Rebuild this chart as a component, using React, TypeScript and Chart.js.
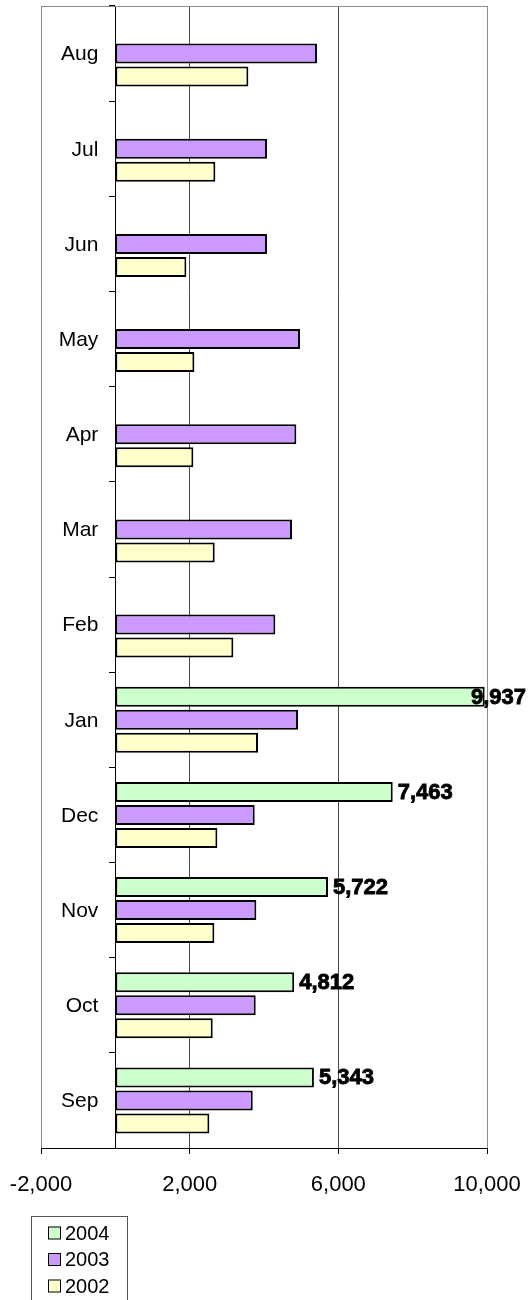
import React, { useEffect, useRef } from 'react';
import { Chart, registerables } from 'chart.js';

Chart.register(...registerables);

// Categories, listed from the bottom of the chart (Sep) to the top (Aug)
const months = ['Sep', 'Oct', 'Nov', 'Dec', 'Jan', 'Feb', 'Mar', 'Apr', 'May', 'Jun', 'Jul', 'Aug'];
const seriesNames = ['2004', '2003', '2002'];
const values2004 = [5343, 4812, 5722, 7463, 9937, null, null, null, null, null, null, null];
const values2003 = [3697, 3777, 3794, 3750, 4916, 4305, 4754, 4870, 4969, 4081, 4081, 5427];
const values2002 = [2530, 2620, 2664, 2745, 3839, 3175, 2674, 2099, 2126, 1911, 2691, 3579];
const seriesColors = ['#CCFFCC', '#CC99FF', '#FFFFCC'];
const xMin = -2000;
const xMax = 10000;
const xStep = 4000;

const FONT = "'Liberation Sans', Arial, Helvetica, sans-serif";

const framePlugin = {
  id: 'frameTop',
  beforeDatasetsDraw(chart: any) {
    const { ctx, chartArea: a } = chart;
    ctx.save();
    ctx.strokeStyle = '#8c8c8c';
    ctx.lineWidth = 1;
    ctx.beginPath();
    ctx.moveTo(a.left, a.top + 0.5);
    ctx.lineTo(a.right, a.top + 0.5);
    ctx.stroke();
    ctx.restore();
  },
};

// Category labels drawn beside the y axis, which crosses the x scale at 0
const categoryLabelPlugin = {
  id: 'categoryLabels',
  afterDraw(chart: any) {
    const { ctx } = chart;
    const yScale = chart.scales.y;
    const axisX = chart.scales.x.getPixelForValue(0);
    ctx.save();
    ctx.font = `21px ${FONT}`;
    ctx.fillStyle = '#000';
    ctx.textAlign = 'right';
    ctx.textBaseline = 'middle';
    chart.data.labels.forEach((label: string, i: number) => {
      ctx.fillText(label, axisX - 17, yScale.getPixelForValue(i) + 1);
    });
    ctx.restore();
  },
};

const valueLabelPlugin = {
  id: 'valueLabels',
  afterDatasetsDraw(chart: any) {
    const { ctx } = chart;
    const ds = chart.data.datasets[0];
    const meta = chart.getDatasetMeta(0);
    ctx.save();
    ctx.font = `bold 22px ${FONT}`;
    ctx.fillStyle = '#000';
    ctx.strokeStyle = '#000';
    ctx.lineWidth = 0.8;
    ctx.textAlign = 'left';
    ctx.textBaseline = 'middle';
    meta.data.forEach((bar: any, i: number) => {
      const v = ds.data[i];
      if (v === null || v === undefined) return;
      const text = Number(v).toLocaleString('en-US');
      const w = ctx.measureText(text).width;
      let x = bar.x + 5;
      if (x + w > chart.width - 2) x = chart.width - 2 - w;
      ctx.fillText(text, x, bar.y + 1);
      ctx.strokeText(text, x, bar.y + 1);
    });
    ctx.restore();
  },
};

const boxLegendPlugin = {
  id: 'boxLegend',
  afterDraw(chart: any) {
    const { ctx } = chart;
    const datasets = chart.data.datasets;
    const top = chart.scales.x.bottom + 16;
    const left = 31;
    const width = 96;
    const rowH = 26.5;
    const height = 17 * 2 + rowH * (datasets.length - 1);
    ctx.save();
    ctx.fillStyle = '#fff';
    ctx.fillRect(left, top, width, height);
    ctx.strokeStyle = '#555';
    ctx.lineWidth = 1;
    ctx.strokeRect(left + 0.5, top + 0.5, width, height);
    ctx.font = `20px ${FONT}`;
    ctx.textAlign = 'left';
    ctx.textBaseline = 'middle';
    datasets.forEach((ds: any, i: number) => {
      const cy = top + 17 + i * rowH;
      ctx.fillStyle = ds.backgroundColor;
      ctx.fillRect(48, cy - 6.5, 13, 13);
      ctx.strokeStyle = '#000';
      ctx.lineWidth = 1;
      ctx.strokeRect(48.5, cy - 6, 12, 12);
      ctx.fillStyle = '#000';
      ctx.fillText(ds.label, 65, cy + 1);
    });
    ctx.restore();
  },
};

export default function App() {
  const canvasRef = useRef<HTMLCanvasElement | null>(null);

  useEffect(() => {
    if (!canvasRef.current) return;
    const seriesData = [values2004, values2003, values2002];
    const chart = new Chart(canvasRef.current, {
      type: 'bar',
      data: {
        labels: months,
        datasets: seriesNames.map((name, i) => ({
          label: name,
          data: seriesData[i],
          backgroundColor: seriesColors[i],
          borderColor: '#000',
          borderWidth: 2,
          borderSkipped: false,
          categoryPercentage: 0.725,
          barPercentage: 0.87,
        })),
      },
      options: {
        indexAxis: 'y',
        responsive: false,
        animation: false,
        devicePixelRatio: 1,
        layout: { padding: { left: 41, right: 41, top: 6, bottom: 100 } },
        plugins: {
          legend: { display: false },
          tooltip: { enabled: false },
          title: { display: false },
        },
        scales: {
          x: {
            type: 'linear',
            position: 'bottom',
            min: xMin,
            max: xMax,
            ticks: {
              stepSize: xStep,
              maxRotation: 0,
              color: '#000',
              padding: 18,
              font: { family: FONT, size: 22 },
              callback: (v: any) => Number(v).toLocaleString('en-US'),
            },
            grid: {
              color: (c: any) =>
                c.tick && (c.tick.value === xMin || c.tick.value === xMax) ? '#8c8c8c' : '#4a4a4a',
              tickColor: '#000',
              tickLength: 6,
              lineWidth: 1,
            },
            border: { color: '#000', width: 1 },
            afterFit: (s: any) => {
              s.height = 52;
              s.paddingLeft = 0;
              s.paddingRight = 0;
            },
          },
          y: {
            type: 'category',
            reverse: true,
            position: { x: 0 } as any,
            ticks: { display: false },
            grid: {
              drawOnChartArea: false,
              drawTicks: true,
              tickLength: 6,
              tickColor: '#000',
              offset: true,
            },
            border: { color: '#000', width: 1 },
            afterFit: (s: any) => {
              s.paddingTop = 0;
              s.paddingBottom = 0;
            },
          },
        },
      },
      plugins: [framePlugin, valueLabelPlugin, categoryLabelPlugin, boxLegendPlugin],
    });
    return () => chart.destroy();
  }, []);

  return (
    <div style={{ position: 'absolute', left: 0, top: 0, width: 528, height: 1300, background: '#fff' }}>
      <canvas ref={canvasRef} width={528} height={1300} style={{ display: 'block' }} />
    </div>
  );
}
